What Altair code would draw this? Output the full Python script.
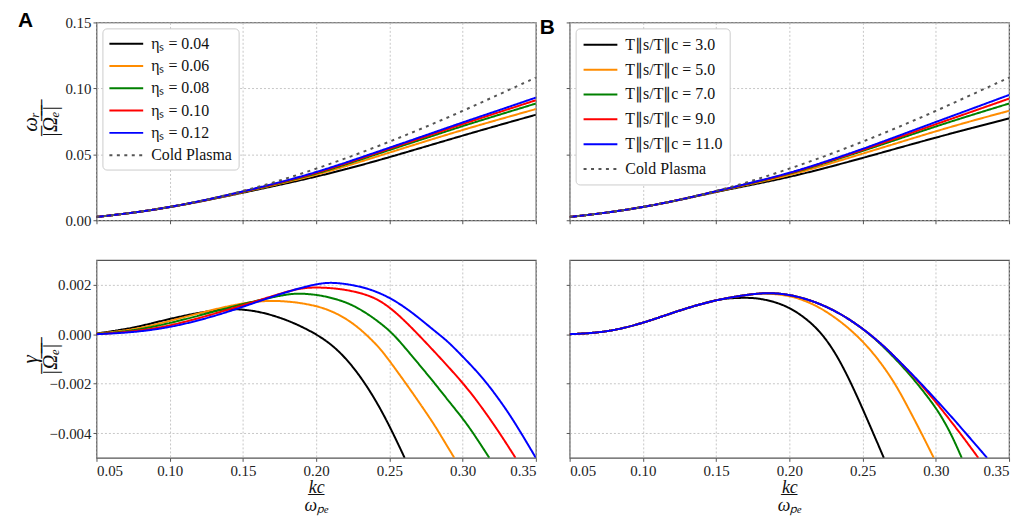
import altair as alt
import pandas as pd

# ---------------- data ----------------
k_top = [0.05, 0.075, 0.10, 0.125, 0.15, 0.175, 0.20, 0.225, 0.25, 0.275, 0.30, 0.325, 0.35]
cold = [0.0025, 0.0056, 0.0099, 0.0154, 0.0221, 0.0299, 0.0390, 0.0488, 0.0595, 0.0708, 0.0828, 0.0955, 0.1082]

# panel A (top): omega_r/|Omega_e| for eta_s
wA_004 = [0.0025, 0.0056, 0.0098, 0.0150, 0.0209, 0.0268, 0.0330, 0.0400, 0.0478, 0.0560, 0.0642, 0.0722, 0.0800]
wA_006 = [0.0025, 0.0056, 0.0099, 0.0152, 0.0213, 0.0276, 0.0343, 0.0425, 0.0513, 0.0600, 0.0685, 0.0765, 0.0843]
wA_008 = [0.0025, 0.0056, 0.0099, 0.0153, 0.0216, 0.0281, 0.0351, 0.0440, 0.0533, 0.0623, 0.0715, 0.0800, 0.0885]
wA_010 = [0.0025, 0.0056, 0.0099, 0.0153, 0.0217, 0.0284, 0.0357, 0.0448, 0.0543, 0.0635, 0.0730, 0.0820, 0.0910]
wA_012 = [0.0025, 0.0056, 0.0099, 0.0154, 0.0218, 0.0287, 0.0363, 0.0455, 0.0550, 0.0645, 0.0742, 0.0835, 0.0930]

# panel B (top): omega_r/|Omega_e| for T_par_s/T_par_c
wB_3 = [0.0025, 0.0056, 0.0099, 0.0153, 0.0215, 0.0270, 0.0327, 0.0397, 0.0472, 0.0550, 0.0627, 0.0701, 0.0772]
wB_5 = [0.0025, 0.0056, 0.0099, 0.0154, 0.0217, 0.0278, 0.0340, 0.0420, 0.0505, 0.0590, 0.0675, 0.0755, 0.0830]
wB_7 = [0.0025, 0.0056, 0.0099, 0.0154, 0.0219, 0.0283, 0.0350, 0.0435, 0.0525, 0.0618, 0.0712, 0.0800, 0.0885]
wB_9 = [0.0025, 0.0056, 0.0099, 0.0154, 0.0220, 0.0285, 0.0354, 0.0440, 0.0532, 0.0630, 0.0728, 0.0825, 0.0922]
wB_11 = [0.0025, 0.0056, 0.0099, 0.0154, 0.0220, 0.0287, 0.0357, 0.0445, 0.0540, 0.0642, 0.0745, 0.0847, 0.0950]

# panel A (bottom): gamma/|Omega_e|
gA_004_k = [0.05, 0.075, 0.10, 0.125, 0.14, 0.15, 0.16, 0.17, 0.18, 0.19, 0.20, 0.21, 0.22, 0.23, 0.24, 0.25, 0.2604]
gA_004 = [0.00003, 0.00024, 0.00063, 0.00093, 0.00103, 0.00100, 0.00092, 0.00077, 0.00057, 0.00031, 0.0,
          -0.00039, -0.00095, -0.00169, -0.0026, -0.00369, -0.0050]
gA_006_k = [0.05, 0.075, 0.10, 0.125, 0.15, 0.168, 0.185, 0.20, 0.21, 0.22, 0.23, 0.24, 0.246, 0.2614, 0.27, 0.28,
            0.2841, 0.2943]
gA_006 = [0.00002, 0.00017, 0.00053, 0.00093, 0.00127, 0.00137, 0.00131, 0.00115, 0.00095, 0.00065, 0.00022,
          -0.00035, -0.00074, -0.0020, -0.00273, -0.0036, -0.0040, -0.0050]
gA_008_k = [0.05, 0.075, 0.10, 0.125, 0.15, 0.175, 0.185, 0.195, 0.205, 0.215, 0.225, 0.235, 0.245, 0.2527, 0.26,
            0.27, 0.2811, 0.29, 0.30, 0.3073, 0.3182]
gA_008 = [0.00001, 0.00013, 0.00044, 0.00083, 0.00123, 0.00156, 0.00165, 0.00163, 0.00155, 0.0014, 0.00118,
          0.00083, 0.0004, 0.0, -0.0005, -0.0012, -0.0020, -0.00267, -0.0034, -0.0040, -0.0050]
gA_010_k = [0.05, 0.075, 0.10, 0.125, 0.15, 0.175, 0.187, 0.198, 0.21, 0.22, 0.23, 0.24, 0.25, 0.2595, 0.2695,
            0.28, 0.29, 0.3005, 0.31, 0.3243, 0.3361]
gA_010 = [0.0, 0.0001, 0.00033, 0.00073, 0.00117, 0.00163, 0.00184, 0.0019, 0.00187, 0.0018, 0.00167, 0.00148,
          0.0011, 0.0006, 0.0, -0.00066, -0.0013, -0.0020, -0.0027, -0.0039, -0.0050]
gA_012_k = [0.05, 0.075, 0.10, 0.125, 0.15, 0.175, 0.20, 0.212, 0.225, 0.235, 0.245, 0.255, 0.265, 0.275, 0.2845,
            0.29, 0.30, 0.31, 0.3182, 0.33, 0.34, 0.35]
gA_012 = [0.0, 0.00007, 0.00027, 0.00063, 0.0011, 0.00163, 0.00205, 0.0021, 0.00199, 0.00185, 0.00163, 0.00131,
          0.0009, 0.00042, -0.00004, -0.0003, -0.0009, -0.00152, -0.0021, -0.00305, -0.0040, -0.0050]

# panel B (bottom): gamma/|Omega_e|
gB_3_k = [0.05, 0.075, 0.10, 0.125, 0.15, 0.16, 0.172, 0.18, 0.19, 0.20, 0.21, 0.22, 0.23, 0.24, 0.25, 0.2645]
gB_3 = [0.0, 0.00007, 0.00044, 0.00097, 0.0014, 0.00146, 0.00148, 0.00144, 0.00131, 0.00108, 0.0007, 0.00018,
        -0.0006, -0.0017, -0.0030, -0.0050]
gB_5_k = [0.05, 0.075, 0.10, 0.125, 0.15, 0.175, 0.185, 0.20, 0.2085, 0.2175, 0.227, 0.237, 0.247, 0.258, 0.2709,
          0.2805, 0.2902, 0.2986]
gB_5 = [0.0, 0.00007, 0.00044, 0.00097, 0.0014, 0.00163, 0.00166, 0.00156, 0.0014, 0.00118, 0.00085, 0.00042,
        -0.0001, -0.0008, -0.00185, -0.0029, -0.0040, -0.0050]
gB_7_k = [0.05, 0.075, 0.10, 0.125, 0.15, 0.175, 0.185, 0.195, 0.205, 0.215, 0.225, 0.235, 0.245, 0.255, 0.265,
          0.2765, 0.2879, 0.2992, 0.305, 0.311, 0.3177]
gB_7 = [0.0, 0.00007, 0.00044, 0.00097, 0.0014, 0.00163, 0.00167, 0.00164, 0.00153, 0.00136, 0.00112, 0.00082,
        0.00044, 0.0, -0.00055, -0.00125, -0.00203, -0.0029, -0.00345, -0.0041, -0.0050]
gB_9_k = [0.05, 0.075, 0.10, 0.125, 0.15, 0.175, 0.185, 0.195, 0.205, 0.215, 0.225, 0.235, 0.245, 0.255, 0.265,
          0.27, 0.28, 0.29, 0.30, 0.31, 0.3185, 0.329]
gB_9 = [0.0, 0.00007, 0.00044, 0.00097, 0.0014, 0.00163, 0.00167, 0.00164, 0.00153, 0.00136, 0.00112, 0.00082,
        0.00044, 0.0, -0.00051, -0.0008, -0.0014, -0.00204, -0.00274, -0.0035, -0.00415, -0.0050]
gB_11_k = [0.05, 0.075, 0.10, 0.125, 0.15, 0.175, 0.185, 0.195, 0.205, 0.215, 0.225, 0.235, 0.245, 0.255, 0.265,
           0.27, 0.28, 0.29, 0.30, 0.31, 0.32, 0.335]
gB_11 = [0.0, 0.00007, 0.00044, 0.00097, 0.0014, 0.00163, 0.00167, 0.00164, 0.00153, 0.00136, 0.00112, 0.00082,
         0.00044, 0.0, -0.00051, -0.0008, -0.00139, -0.0020, -0.00264, -0.00329, -0.00397, -0.0050]

labels_A = ["ηₛ = 0.04", "ηₛ = 0.06", "ηₛ = 0.08", "ηₛ = 0.10", "ηₛ = 0.12"]
labels_B = ["T∥s/T∥c = 3.0", "T∥s/T∥c = 5.0", "T∥s/T∥c = 7.0", "T∥s/T∥c = 9.0", "T∥s/T∥c = 11.0"]
cold_label = "Cold Plasma"
x_ticks = [0.05, 0.10, 0.15, 0.20, 0.25, 0.30, 0.35]
wr_ticks = [0.0, 0.05, 0.10, 0.15]
g_ticks = [-0.004, -0.002, 0.0, 0.002]

line_colors = ["#000000", "#ff8c00", "#008000", "#ff0000", "#0000ff"]
cold_color = "#555555"

# ---------------- helpers ----------------
def long(ks_list, ys_list, names):
    rows = []
    for ks, ys, n in zip(ks_list, ys_list, names):
        for k, y in zip(ks, ys):
            rows.append({"k": k, "v": y, "s": n})
    return pd.DataFrame(rows)

NUM_FONT = "Liberation Serif"
MATH_FONT = "Liberation Serif"

wr_title = ["ωᵣ", "|\u0305Ω\u0305ₑ\u0305|\u0305"]
g_title = ["γ", "|\u0305Ω\u0305ₑ\u0305|\u0305"]
k_title = ["k\u0332c\u0332", "ωₚₑ"]


def make_legend(row_pad, pad):
    return alt.Legend(
        title=None, orient="top-left", offset=6, fillColor="white",
        strokeColor="#cccccc", cornerRadius=4, padding=pad,
        symbolType="M-1,0H3", symbolSize=289, labelFont=MATH_FONT,
        labelFontSize=16, labelColor="#111111", labelOffset=24,
        rowPadding=row_pad, labelLimit=300,
    )


def panel(df, names, with_cold, ydom, yticks, yfmt, ytitle, show_xlab, legend, title=None, dx=0):
    dom = names + ([cold_label] if with_cold else [])
    rng = line_colors + ([cold_color] if with_cold else [])
    dash = [[1, 0]] * 5 + ([[3, 4.5]] if with_cold else [])
    widths = [2] * 5 + ([3] if with_cold else [])
    xaxis = alt.Axis(values=x_ticks, format=".2f", labels=show_xlab,
                     title=k_title if show_xlab else None,
                     titleFont=MATH_FONT, titleFontSize=18, titleFontStyle="italic",
                     titleFontWeight="normal", titleBaseline="top", titleY=21,
                     titleLineHeight=18, titleColor="#111111")
    yaxis = alt.Axis(values=yticks, format=yfmt, labels=ytitle is not None,
                     title=ytitle, titleFont=MATH_FONT, titleFontSize=21,
                     titleFontStyle="italic", titleFontWeight="normal",
                     titleBaseline="middle", titleX=-66, titleLineHeight=20,
                     titleColor="#111111")
    ch = alt.Chart(df).mark_line(clip=True, interpolate="basis", strokeCap="butt").encode(
        x=alt.X("k:Q", scale=alt.Scale(domain=[0.05, 0.35], nice=False, zero=False), axis=xaxis),
        y=alt.Y("v:Q", scale=alt.Scale(domain=ydom, nice=False, zero=False), axis=yaxis),
        color=alt.Color("s:N", scale=alt.Scale(domain=dom, range=rng), sort=dom,
                        legend=legend),
        strokeDash=alt.StrokeDash("s:N", scale=alt.Scale(domain=dom, range=dash), sort=dom,
                                  legend=legend),
        strokeWidth=alt.StrokeWidth("s:N", scale=alt.Scale(domain=dom, range=widths), sort=dom,
                                    legend=legend),
    )
    props = dict(width=442, height=199)
    if title is not None:
        props["title"] = alt.TitleParams(title, anchor="start", frame="group", dx=dx,
                                         offset=-16, fontSize=21, fontWeight="bold",
                                         font="Liberation Sans", color="#000000")
    return ch.properties(**props)


topA_df = long([k_top] * 6, [wA_004, wA_006, wA_008, wA_010, wA_012, cold], labels_A + [cold_label])
topB_df = long([k_top] * 6, [wB_3, wB_5, wB_7, wB_9, wB_11, cold], labels_B + [cold_label])
botA_df = long([gA_004_k, gA_006_k, gA_008_k, gA_010_k, gA_012_k],
               [gA_004, gA_006, gA_008, gA_010, gA_012], labels_A)
botB_df = long([gB_3_k, gB_5_k, gB_7_k, gB_9_k, gB_11_k],
               [gB_3, gB_5, gB_7, gB_9, gB_11], labels_B)

topA = panel(topA_df, labels_A, True, [0, 0.15], wr_ticks, ".2f", wr_title, False,
             make_legend(4.4, 6), title="A", dx=-79)
topB = panel(topB_df, labels_B, True, [0, 0.15], wr_ticks, ".2f", None, False,
             make_legend(7, 7), title="B", dx=-30)
botA = panel(botA_df, labels_A, False, [-0.005, 0.003], g_ticks, ".3f", g_title, True, None)
botB = panel(botB_df, labels_B, False, [-0.005, 0.003], g_ticks, ".3f", None, True, None)

chart = alt.concat(
    topA, topB, botA, botB, columns=2, spacing={"row": 40, "column": 34}, bounds="flush"
).resolve_scale(
    color="independent", strokeDash="independent", strokeWidth="independent",
    x="independent", y="independent"
).resolve_legend(
    color="independent", strokeDash="independent", strokeWidth="independent"
).properties(
    padding={"left": 9, "top": 0, "right": 5, "bottom": 0},
    background="white",
).configure_view(
    stroke="#555555", strokeWidth=1.2
).configure_axis(
    grid=True, gridColor="#b8b8b8", gridDash=[2, 2], gridWidth=0.8,
    domain=False, tickColor="#555555", tickSize=3.5, tickWidth=1,
    labelFont=NUM_FONT, labelFontSize=15, labelColor="#222222", labelPadding=2,
)

chart.save("out.html", embed_options={"renderer": "svg", "actions": False})
